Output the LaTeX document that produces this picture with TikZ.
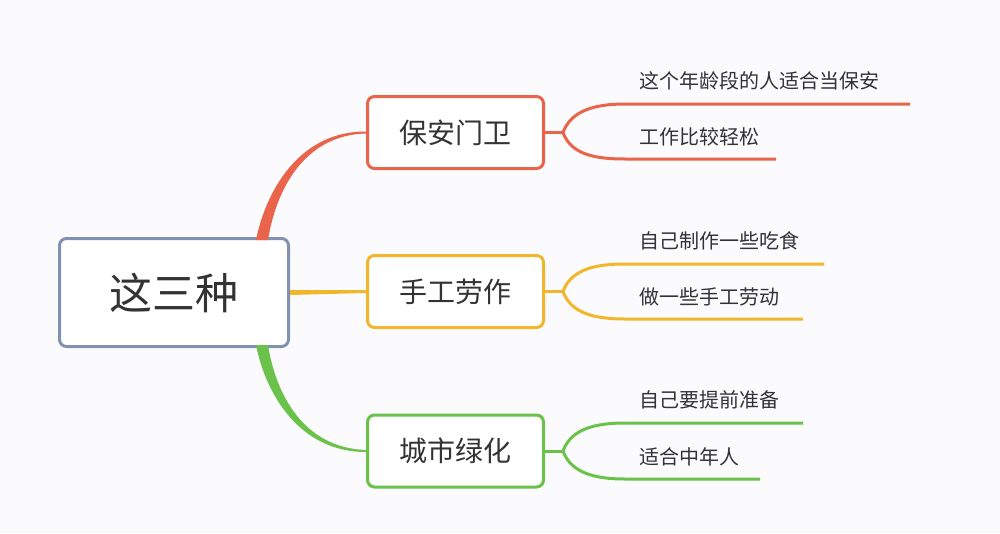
\documentclass[tikz,border=0pt]{standalone}
\usepackage{fontspec}
\setmainfont{Noto Sans CJK SC}
\usetikzlibrary{positioning}
\definecolor{bgc}{RGB}{251,251,253}
\definecolor{rootc}{RGB}{131,145,176}
\definecolor{redc}{RGB}{233,100,75}
\definecolor{yelc}{RGB}{242,182,44}
\definecolor{grnc}{RGB}{106,194,74}
\definecolor{txtc}{RGB}{51,51,51}
\tikzset{
  topicbox/.style={draw, rounded corners=7pt, line width=3pt, fill=white, text=txtc,
    minimum width=176pt, minimum height=72pt, font=\fontsize{28}{32}\selectfont},
  leaf/.style={anchor=west, inner sep=0pt, text=txtc, font=\fontsize{20}{24}\selectfont},
  sub/.style={line width=3pt},
}
\begin{document}
\begin{tikzpicture}[x=1pt,y=-1pt]
    \fill[bgc] (0,0) rectangle (1000,533);
    \node[topicbox, draw=rootc, minimum width=229pt, minimum height=108pt, font=\fontsize{43}{48}\selectfont] (root) at (174,292.5) {这三种};
    \node[topicbox, draw=redc] (guard) at (455.5,132.5) {保安门卫};
    \node[topicbox, draw=yelc] (craft) at (455.5,291.5) {手工劳作};
    \node[topicbox, draw=grnc] (green) at (455.5,451) {城市绿化};
    \fill[redc] (256,240) .. controls (266,190) and (300,131) .. ([yshift=1pt]guard.west) -- ([yshift=-1pt]guard.west) .. controls (304,135) and (276,190) .. (268,240) -- cycle;
    \fill[grnc] (256,345) .. controls (266,395) and (300,452) .. ([yshift=-1pt]green.west) -- ([yshift=1pt]green.west) .. controls (304,448) and (276,395) .. (268,345) -- cycle;
    \fill[yelc] ([yshift=2.5pt]root.east) -- ([yshift=1.5pt]craft.west) -- ([yshift=-1.5pt]craft.west) -- ([yshift=-2.5pt]root.east) -- cycle;
    \draw[sub, redc] (guard.east) -- ++(18,0) coordinate (gf);
    \draw[sub, yelc] (craft.east) -- ++(18,0) coordinate (cf);
    \draw[sub, grnc] (green.east) -- ++(18,0) coordinate (lf);
    \coordinate (g1) at (910,104);
    \coordinate (g2) at (776,159);
    \coordinate (c1) at (824,264);
    \coordinate (c2) at (803,319);
    \coordinate (l1) at (803,423);
    \coordinate (l2) at (760,479);
    \draw[sub, redc] (gf) .. controls +(8,-22) and +(-30,0) .. (625,104) -- (g1);
    \draw[sub, redc] (gf) .. controls +(8,22) and +(-30,0) .. (625,159) -- (g2);
    \draw[sub, yelc] (cf) .. controls +(8,-22) and +(-30,0) .. (625,264) -- (c1);
    \draw[sub, yelc] (cf) .. controls +(8,22) and +(-30,0) .. (625,319) -- (c2);
    \draw[sub, grnc] (lf) .. controls +(8,-22) and +(-30,0) .. (625,423) -- (l1);
    \draw[sub, grnc] (lf) .. controls +(8,22) and +(-30,0) .. (625,479) -- (l2);
    \node[leaf] (gt1) at (639,81) {这个年龄段的人适合当保安};
    \node[leaf] (gt2) at (639,137) {工作比较轻松};
    \node[leaf] (ct1) at (639,241) {自己制作一些吃食};
    \node[leaf] (ct2) at (639,297) {做一些手工劳动};
    \node[leaf] (lt1) at (639,400) {自己要提前准备};
    \node[leaf] (lt2) at (639,457) {适合中年人};
\end{tikzpicture}
\end{document}
